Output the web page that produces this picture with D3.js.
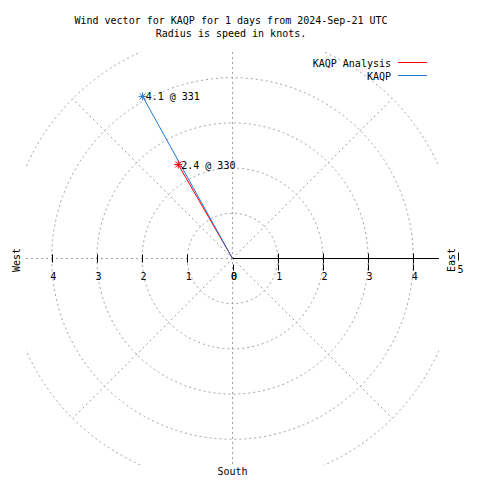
<!DOCTYPE html>
<html>
<head>
<meta charset="utf-8">
<script src="https://cdn.jsdelivr.net/npm/d3@7"></script>
<style>
  html, body { margin: 0; padding: 0; background: #fff; }
  svg text { font-family: "DejaVu Sans Mono", "Liberation Mono", monospace; font-size: 10px; fill: #000; }
</style>
</head>
<body>
<svg id="chart" width="480" height="480"></svg>
<script>
// ---- data ----
const titleLines = ["Wind vector for KAQP for 1 days from 2024-Sep-21 UTC", "Radius is speed in knots."];
const seriesNames = ["KAQP Analysis", "KAQP"];
const speeds = [2.4, 4.1];          // knots
const directions = [330, 331];      // degrees (compass)
const radiusTicks = [0, 1, 2, 3, 4, 5];
const gridCircles = [1, 2, 3, 4, 5];
const gridSpokes = [45, 135, 225, 315];
const compassLabels = ["West", "East", "South"];

// ---- layout ----
const W = 480, H = 480;
const cx = 232.5, cy = 258.5;
const maxR = 5;
const pxPerKnot = 45.2;
const clipHalf = 206.5;
const colors = ["#ff0000", "#1e78dc"];
const gridColor = "#a0a0a0";

const svg = d3.select("#chart");
const r = d3.scaleLinear().domain([0, maxR]).range([0, maxR * pxPerKnot]);

svg.append("defs").append("clipPath").attr("id", "plotclip")
  .append("rect").attr("x", cx - clipHalf).attr("y", cy - clipHalf)
  .attr("width", 2 * clipHalf).attr("height", 2 * clipHalf);

const grid = svg.append("g").attr("clip-path", "url(#plotclip)")
  .attr("fill", "none").attr("stroke", gridColor).attr("stroke-width", 1)
  .attr("stroke-dasharray", "2,3");

grid.selectAll("circle").data(gridCircles).enter().append("circle")
  .attr("cx", cx).attr("cy", cy).attr("r", d => r(d));

grid.selectAll("line.spoke").data(gridSpokes).enter().append("line")
  .attr("class", "spoke")
  .attr("x1", cx).attr("y1", cy)
  .attr("x2", d => cx + r(maxR) * Math.sin(d * Math.PI / 180))
  .attr("y2", d => cy - r(maxR) * Math.cos(d * Math.PI / 180));

// N-S grid line and west grid line
grid.append("line").attr("x1", cx).attr("x2", cx).attr("y1", cy - clipHalf).attr("y2", cy + clipHalf);
grid.append("line").attr("x1", cx - clipHalf).attr("x2", cx).attr("y1", cy).attr("y2", cy);

// East axis (solid)
svg.append("line").attr("x1", cx).attr("x2", cx + clipHalf).attr("y1", cy).attr("y2", cy)
  .attr("stroke", "#000").attr("stroke-width", 1);

// Ticks & labels
const axisG = svg.append("g").attr("stroke", "#000").attr("stroke-width", 1);
const inner = radiusTicks.filter(d => d > 0 && d < maxR);
axisG.selectAll("line.tw").data(inner).enter().append("line")
  .attr("x1", d => Math.round(cx - r(d)) + 0.5).attr("x2", d => Math.round(cx - r(d)) + 0.5)
  .attr("y1", cy - 4).attr("y2", cy + 4);
axisG.selectAll("line.te").data(inner).enter().append("line")
  .attr("x1", d => Math.round(cx + r(d)) + 0.5).attr("x2", d => Math.round(cx + r(d)) + 0.5)
  .attr("y1", cy - 5).attr("y2", cy + 5);
axisG.selectAll("line.tx").data(radiusTicks.filter(d => d < maxR)).enter().append("line")
  .attr("x1", d => Math.round(cx + r(d)) + 0.5).attr("x2", d => Math.round(cx + r(d)) + 0.5)
  .attr("y1", cy + 6).attr("y2", cy + 12);
// tick at max radius
axisG.append("line")
  .attr("x1", Math.round(cx + r(maxR)) - 0.5).attr("x2", Math.round(cx + r(maxR)) - 0.5)
  .attr("y1", cy - 6).attr("y2", cy + 2);

const labelsG = svg.append("g");
labelsG.selectAll("text.lw").data(radiusTicks.filter(d => d < maxR)).enter().append("text")
  .attr("x", d => cx - r(d) + 1.5).attr("y", 280).attr("text-anchor", "middle").text(d => d);
labelsG.selectAll("text.le").data(radiusTicks.filter(d => d < maxR)).enter().append("text")
  .attr("x", d => cx + r(d) + 1.5).attr("y", 280).attr("text-anchor", "middle").text(d => d);
labelsG.append("text").attr("x", cx + r(maxR) + 2).attr("y", 273).attr("text-anchor", "middle").text(maxR);

// compass labels
svg.append("text").attr("transform", "translate(20,260) rotate(-90)").attr("text-anchor", "middle").text(compassLabels[0]);
svg.append("text").attr("transform", "translate(455,260) rotate(-90)").attr("text-anchor", "middle").text(compassLabels[1]);
svg.append("text").attr("x", cx).attr("y", 475).attr("text-anchor", "middle").text(compassLabels[2]);

// Title
svg.selectAll("text.title").data(titleLines).enter().append("text")
  .attr("class", "title").attr("x", 231).attr("y", (d, i) => 24 + i * 13)
  .attr("text-anchor", "middle").text(d => d);

// Vectors
const pts = speeds.map((s, i) => {
  const a = directions[i] * Math.PI / 180;
  return { s, dir: directions[i], x: cx + r(s) * Math.sin(a), y: cy - r(s) * Math.cos(a), c: colors[i] };
});
const vecG = svg.append("g");
pts.forEach(p => {
  vecG.append("line").attr("x1", cx).attr("y1", cy).attr("x2", p.x).attr("y2", p.y)
    .attr("stroke", p.c).attr("stroke-width", 1);
});
pts.forEach(p => {
  const g = vecG.append("g").attr("stroke", p.c).attr("stroke-width", 1);
  const k = 4;
  g.append("line").attr("x1", p.x - k).attr("x2", p.x + k).attr("y1", p.y).attr("y2", p.y);
  g.append("line").attr("x1", p.x).attr("x2", p.x).attr("y1", p.y - k).attr("y2", p.y + k);
  g.append("line").attr("x1", p.x - 3).attr("x2", p.x + 3).attr("y1", p.y - 3).attr("y2", p.y + 3);
  g.append("line").attr("x1", p.x - 3).attr("x2", p.x + 3).attr("y1", p.y + 3).attr("y2", p.y - 3);
  vecG.append("text").attr("x", p.x + 3).attr("y", p.y + 4).text(p.s.toFixed(1) + " @ " + p.dir);
});

// Legend
const leg = svg.append("g");
seriesNames.forEach((n, i) => {
  const y = 67 + i * 13;
  leg.append("text").attr("x", 391).attr("y", y).attr("text-anchor", "end").text(n);
  leg.append("line").attr("x1", 398).attr("x2", 427).attr("y1", y - 4.5).attr("y2", y - 4.5)
    .attr("stroke", colors[i]).attr("stroke-width", 1);
});
</script>
</body>
</html>
